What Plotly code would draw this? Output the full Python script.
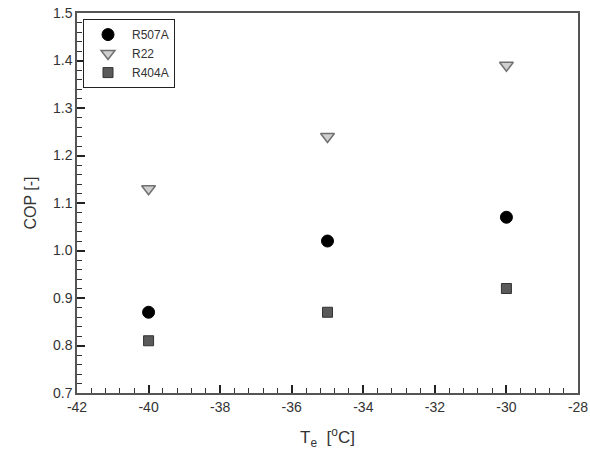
import plotly.graph_objects as go

te = [-40, -35, -30]
cop_r507a = [0.87, 1.02, 1.07]
cop_r22 = [1.13, 1.24, 1.39]
cop_r404a = [0.81, 0.87, 0.92]

x_ticks = [-42, -40, -38, -36, -34, -32, -30, -28]
x_ticklabels = ["-42", "-40", "-38", "-36", "-34", "-32", "-30", "-28"]
y_ticks = [0.7, 0.8, 0.9, 1.0, 1.1, 1.2, 1.3, 1.4, 1.5]
y_ticklabels = ["0.7", "0.8", "0.9", "1.0", "1.1", "1.2", "1.3", "1.4", "1.5"]

fig = go.Figure()
fig.add_trace(go.Scatter(x=te, y=cop_r507a, mode="markers", name="R507A",
                         marker=dict(symbol="circle", size=12, color="black",
                                     line=dict(color="black", width=1))))
fig.add_trace(go.Scatter(x=te, y=cop_r22, mode="markers", name="R22",
                         marker=dict(symbol="triangle-down", size=12, color="#cfcfcf",
                                     line=dict(color="#707070", width=1.5))))
fig.add_trace(go.Scatter(x=te, y=cop_r404a, mode="markers", name="R404A",
                         marker=dict(symbol="square", size=10, color="#5a5a5a",
                                     line=dict(color="#333333", width=1))))

axis_font = dict(family="Liberation Sans, Arial, sans-serif", size=14, color="#333333")

fig.update_layout(
    width=590, height=465,
    margin=dict(l=77, r=12, t=13, b=72),
    paper_bgcolor="white", plot_bgcolor="white",
    font=dict(family="Liberation Sans, Arial, sans-serif", color="#333333"),
    showlegend=True,
    legend=dict(x=0.012, y=0.984, xanchor="left", yanchor="top",
                bgcolor="white", bordercolor="#222222", borderwidth=1,
                font=dict(size=12, color="#333333"),
                itemwidth=38, tracegroupgap=0, entrywidth=80),
    xaxis=dict(range=[-42, -28], tickmode="array", tickvals=x_ticks, ticktext=x_ticklabels,
               ticks="inside", ticklen=8, tickwidth=1.6, automargin=False,
               tickcolor="#222222", showgrid=False, zeroline=False,
               showline=True, linecolor="#555555", linewidth=1.5, mirror=True,
               tickfont=axis_font,
               minor=dict(tick0=-42, dtick=0.4, ticks="inside", ticklen=5, tickwidth=1.4,
                          tickcolor="#333333", showgrid=False),
               title=dict(text="T<sub>e</sub>  [<sup>o</sup>C]", font=dict(size=17, color="#333333"),
                          standoff=18)),
    yaxis=dict(range=[0.7, 1.5], tickmode="array", tickvals=y_ticks, ticktext=y_ticklabels,
               ticks="inside", ticklen=8, tickwidth=1.6, automargin=False,
               tickcolor="#222222", showgrid=False, zeroline=False,
               showline=True, linecolor="#555555", linewidth=1.5, mirror=True,
               tickfont=axis_font,
               minor=dict(tick0=0.7, dtick=0.02, ticks="inside", ticklen=5, tickwidth=1.4,
                          tickcolor="#333333", showgrid=False),
               title=dict(text="COP [-]", font=dict(size=16, color="#333333"), standoff=12)),
)

fig.write_html("out.html")
